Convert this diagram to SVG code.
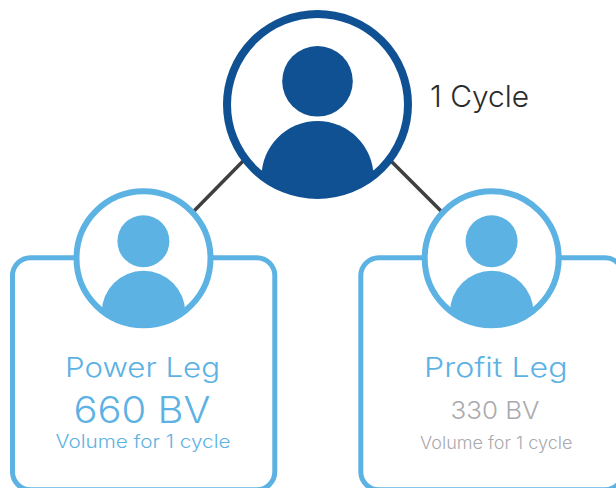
<svg xmlns="http://www.w3.org/2000/svg" width="616" height="488" viewBox="0 0 616 488">
<style>
text{font-family:Inter,"Liberation Sans",sans-serif;font-weight:300}
.blue{fill:#5db2e4}.grey{fill:#aaaaae}
.card{fill:#fff;stroke:#5db2e4;stroke-width:5}
.ring{fill:#fff;stroke:#5db2e4;stroke-width:6}
.edge{stroke:#3f3f3f;stroke-width:3.5;fill:none}
</style>
<defs>
<clipPath id="clipTop"><circle cx="317.5" cy="104.5" r="92"/></clipPath>
<clipPath id="clipL"><circle cx="143.5" cy="258.3" r="68"/></clipPath>
<clipPath id="clipR"><circle cx="491.7" cy="258.3" r="68"/></clipPath>
</defs>
<rect width="616" height="488" fill="#fff"/>
<g id="connectors">
<line class="edge" x1="246" y1="158" x2="194" y2="211"/>
<line class="edge" x1="389" y1="159" x2="441" y2="211"/>
</g>
<g id="node-top">
<circle cx="317.5" cy="104.5" r="90.5" fill="#fff" stroke="#0f5192" stroke-width="8"/>
<circle cx="317.5" cy="81.3" r="35.3" fill="#0f5192"/>
<circle cx="317.5" cy="177" r="56" fill="#0f5192" clip-path="url(#clipTop)"/>
<path d="M261.7 170L373.3 170L382 190L317.5 197L253 190Z" fill="#0f5192" clip-path="url(#clipTop)"/>
<text x="430" y="106.5" font-size="29.5" fill="#2b2b2b" textLength="99" lengthAdjust="spacingAndGlyphs">1 Cycle</text>
</g>
<g id="node-power">
<rect class="card" x="12.5" y="257.8" width="262.3" height="232" rx="18"/>
<circle class="ring" cx="143.5" cy="258.3" r="67"/>
<circle class="blue" cx="143.4" cy="241.2" r="26"/>
<circle class="blue" cx="143.5" cy="312.5" r="41.8" clip-path="url(#clipL)"/>
<text class="blue" x="65" y="376.7" font-size="27.5" textLength="155" lengthAdjust="spacingAndGlyphs">Power Leg</text>
<text class="blue" x="73.5" y="423" font-size="36.5" textLength="137" lengthAdjust="spacingAndGlyphs">660 BV</text>
<text class="blue" x="55.5" y="448" font-size="18" textLength="175" lengthAdjust="spacingAndGlyphs">Volume for 1 cycle</text>
</g>
<g id="node-profit">
<rect class="card" x="360.8" y="257.8" width="262.3" height="232" rx="18"/>
<circle class="ring" cx="491.7" cy="258.3" r="67"/>
<circle class="blue" cx="491.6" cy="241.2" r="26"/>
<circle class="blue" cx="491.7" cy="312.5" r="41.8" clip-path="url(#clipR)"/>
<text class="blue" x="424" y="376.7" font-size="27.5" textLength="143.5" lengthAdjust="spacingAndGlyphs">Profit Leg</text>
<text class="grey" x="450.5" y="419" font-size="24.5" textLength="89" lengthAdjust="spacingAndGlyphs">330 BV</text>
<text class="grey" x="420" y="449" font-size="17" textLength="152.5" lengthAdjust="spacingAndGlyphs">Volume for 1 cycle</text>
</g>
</svg>
